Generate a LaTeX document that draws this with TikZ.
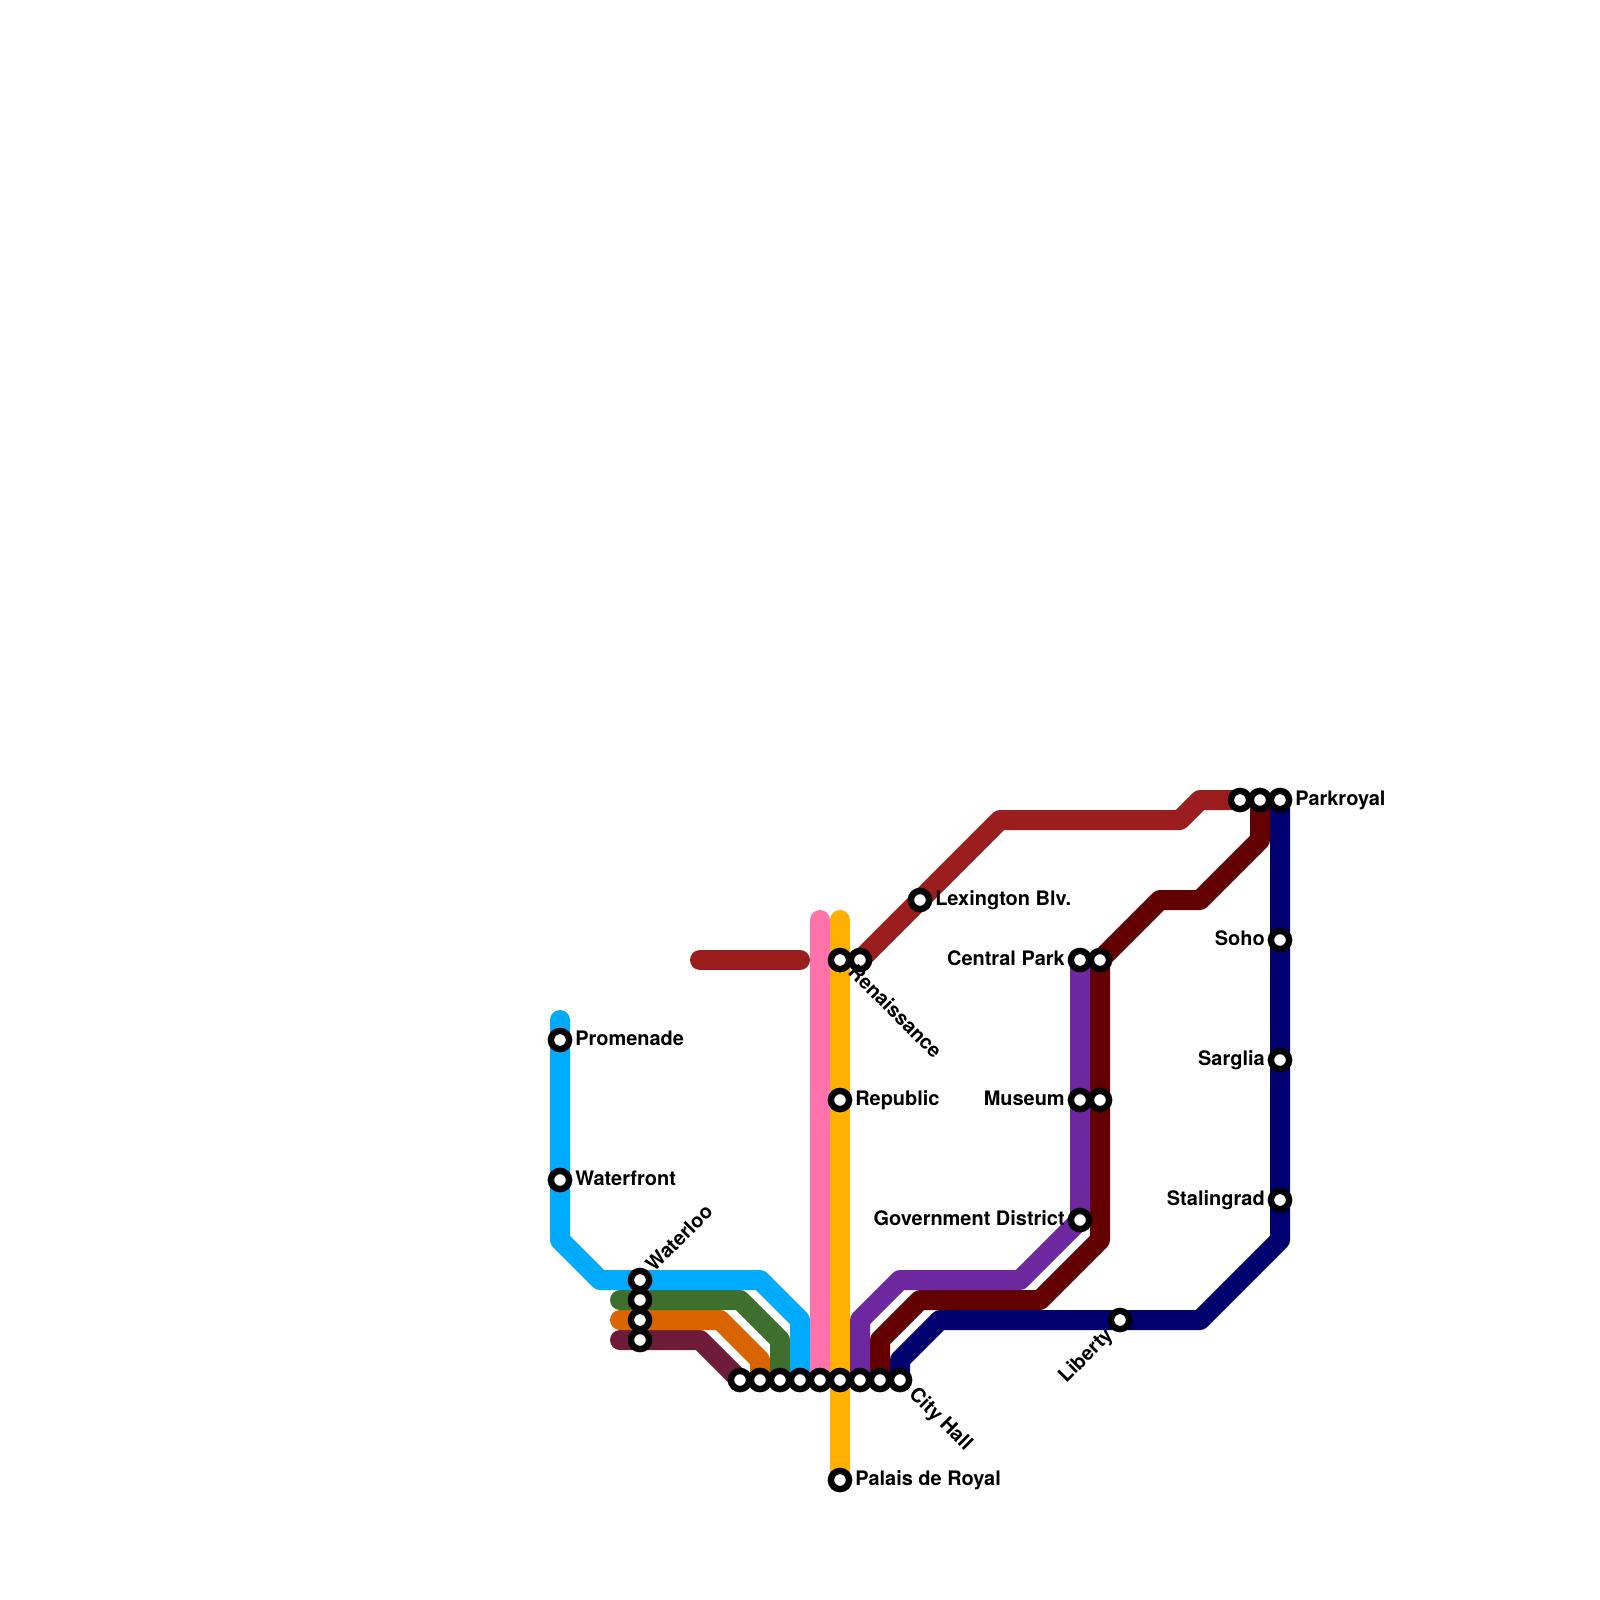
\documentclass[tikz,border=0pt]{standalone}
\usepackage{fontspec}
\setmainfont{TeX Gyre Heros}
\usetikzlibrary{backgrounds}
\definecolor{skyline}{HTML}{00AAFF}
\definecolor{greenline}{HTML}{3F6F2E}
\definecolor{orangeline}{HTML}{D96500}
\definecolor{plumline}{HTML}{6E1B3A}
\definecolor{pinkline}{HTML}{FF73AC}
\definecolor{amberline}{HTML}{FFB000}
\definecolor{purpleline}{HTML}{6D28A0}
\definecolor{darkline}{HTML}{620000}
\definecolor{navyline}{HTML}{00006E}
\definecolor{brickline}{HTML}{9C1D1E}
\tikzset{
  metro/.style={line width=0.5cm,line cap=round,line join=round},
  station/.style={circle,draw=black,fill=white,line width=0.16cm,minimum size=0.455cm,inner sep=0pt},
  stname/.style={font=\bfseries\fontsize{14.2}{16}\selectfont,inner sep=0pt}
}
\begin{document}
\begin{tikzpicture}[x=0.5cm,y=-0.5cm]
\useasboundingbox (0,0) rectangle (80,80);

% stations
\foreach \name/\px/\py in {promenade/28/52,waterfront/28/59,
  waterlooA/32/64,waterlooB/32/65,waterlooC/32/66,waterlooD/32/67,
  cityA/37/69,cityB/38/69,cityC/39/69,cityD/40/69,cityE/41/69,cityF/42/69,cityG/43/69,cityH/44/69,cityI/45/69,
  palais/42/74,republic/42/55,renaissA/42/48,renaissB/43/48,lexington/46/45,
  centralA/54/48,centralB/55/48,museumA/54/55,museumB/55/55,government/54/61,liberty/56/66,
  parkA/62/40,parkB/63/40,parkC/64/40,soho/64/47,sarglia/64/53,stalingrad/64/60}
  \node[station] (\name) at (\px,\py) {};

% free ends
\coordinate (skyEnd) at (28,51);
\coordinate (greenEnd) at (31,65);
\coordinate (orangeEnd) at (31,66);
\coordinate (plumEnd) at (31,67);
\coordinate (pinkEnd) at (41,46);
\coordinate (amberEnd) at (42,46);
\coordinate (brickLeft) at (35,48);
\coordinate (brickRight) at (40,48);

\begin{pgfonlayer}{background}
\draw[metro,brickline] (brickLeft) -- (brickRight);
\draw[metro,brickline] (renaissB.center) -- (50,41) -- (59,41) -- (60,40) -- (parkA.center);
\draw[metro,plumline] (plumEnd) -- (35,67) -- (cityA.center);
\draw[metro,orangeline] (orangeEnd) -- (36,66) -- (38,68) -- (cityB.center);
\draw[metro,greenline] (greenEnd) -- (37,65) -- (39,67) -- (cityC.center);
\draw[metro,skyline] (skyEnd) -- (28,62) -- (30,64) -- (38,64) -- (40,66) -- (cityD.center);
\draw[metro,pinkline] (pinkEnd) -- (cityE.center);
\draw[metro,amberline] (amberEnd) -- (palais.center);
\draw[metro,darkline] (cityH.center) -- (44,67) -- (46,65) -- (52,65) -- (55,62) -- (centralB.center) -- (58,45) -- (60,45) -- (63,42) -- (parkB.center);
\draw[metro,purpleline] (cityG.center) -- (43,66) -- (45,64) -- (51,64) -- (government.center) -- (centralA.center);
\draw[metro,navyline] (cityI.center) -- (45,68) -- (47,66) -- (60,66) -- (64,62) -- (parkC.center);
\end{pgfonlayer}

% labels
\node[stname,anchor=base west] (lblPromenade) at (28.75,52.25) {Promenade};
\node[stname,anchor=base west] (lblWaterfront) at (28.75,59.25) {Waterfront};
\node[stname,anchor=base west,rotate=45] (lblWaterloo) at (32.7,63.65) {Waterloo};
\node[stname,anchor=base west,rotate=-45] (lblCity) at (45.4,69.75) {City Hall};
\node[stname,anchor=base west] (lblPalais) at (42.75,74.25) {Palais de Royal};
\node[stname,anchor=base west] (lblRepublic) at (42.75,55.25) {Republic};
\node[stname,anchor=base west,rotate=-45] (lblRenaiss) at (42.35,48.65) {Renaissance};
\node[stname,anchor=base west] (lblLexington) at (46.75,45.25) {Lexington Blv.};
\node[stname,anchor=base east] (lblCentral) at (53.25,48.25) {Central Park};
\node[stname,anchor=base east] (lblMuseum) at (53.25,55.25) {Museum};
\node[stname,anchor=base east] (lblGovernment) at (53.25,61.25) {Government District};
\node[stname,anchor=base east,rotate=45] (lblLiberty) at (55.7,66.8) {Liberty};
\node[stname,anchor=base west] (lblPark) at (64.75,40.25) {Parkroyal};
\node[stname,anchor=base east] (lblSoho) at (63.25,47.25) {Soho};
\node[stname,anchor=base east] (lblSarglia) at (63.25,53.25) {Sarglia};
\node[stname,anchor=base east] (lblStalingrad) at (63.25,60.25) {Stalingrad};
\end{tikzpicture}
\end{document}
